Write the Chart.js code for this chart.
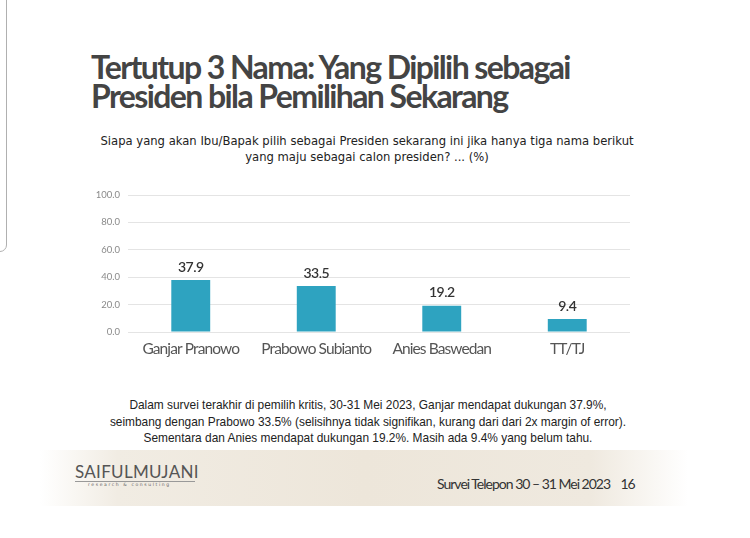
<!DOCTYPE html>
<html><head><meta charset="utf-8">
<script src="https://cdn.jsdelivr.net/npm/chart.js@4"></script>
<style>
html,body{margin:0;padding:0;background:#fff;width:750px;height:538px;overflow:hidden;position:relative;font-family:Lato,sans-serif;}
.edge{position:absolute;left:-11px;top:-10px;width:16px;height:260px;border:1.5px solid #b0b0b0;border-radius:7px;}
.title{position:absolute;left:91px;top:52px;font-family:Lato,sans-serif;font-weight:700;font-size:32px;line-height:29px;color:#444;letter-spacing:-1.6px;}
.sub{position:absolute;left:52px;width:630px;top:133px;text-align:center;font-family:"DejaVu Sans",sans-serif;font-size:11.6px;line-height:16px;color:#222;}
#wrap{position:absolute;left:78px;top:180px;width:552px;height:184px;}
.note{position:absolute;left:38px;width:660px;top:397px;text-align:center;font-family:"Liberation Sans",Arial,sans-serif;font-size:11.9px;line-height:16.5px;color:#222;}
.band{position:absolute;left:40px;top:450px;width:648px;height:56px;background:linear-gradient(90deg,rgba(255,255,255,1) 0%,#f1ece3 12%,#ede6da 50%,#efe9df 85%,rgba(255,255,255,1) 100%);}
.logo{position:absolute;left:75px;top:461px;font-family:Lato,sans-serif;font-size:17px;color:#555;letter-spacing:0.3px;}
.logoline{position:absolute;left:75px;top:481px;width:120px;border-top:1px solid #999;}
.logosub{position:absolute;left:88px;top:482px;font-family:"DejaVu Sans",sans-serif;font-size:4.5px;letter-spacing:1.6px;color:#666;}
.foot{position:absolute;left:437px;top:475px;font-family:Lato,sans-serif;font-size:14px;color:#333;letter-spacing:-1px;}
</style></head><body>
<div class="edge"></div>
<div class="title">Tertutup 3 Nama: Yang Dipilih sebagai<br>Presiden bila Pemilihan Sekarang</div>
<div class="sub">Siapa yang akan Ibu/Bapak pilih sebagai Presiden sekarang ini jika hanya tiga nama berikut<br>yang maju sebagai calon presiden? ... (%)</div>
<div id="wrap"><canvas id="c"></canvas></div>
<div class="note">Dalam survei terakhir di pemilih kritis, 30-31 Mei 2023, Ganjar mendapat dukungan 37.9%,<br>seimbang dengan Prabowo 33.5% (selisihnya tidak signifikan, kurang dari dari 2x margin of error).<br>Sementara dan Anies mendapat dukungan 19.2%. Masih ada 9.4% yang belum tahu.</div>
<div class="band"></div>
<div class="logo">SAIFULMUJANI</div>
<div class="logoline"></div>
<div class="logosub">research &amp; consulting</div>
<div class="foot">Survei Telepon 30 – 31 Mei 2023 &nbsp;&nbsp; 16</div>
<script>
const categories = ["Ganjar Pranowo", "Prabowo Subianto", "Anies Baswedan", "TT/TJ"];
const values = [37.9, 33.5, 19.2, 9.4];
const yTicks = [0, 20, 40, 60, 80, 100];

const valueLabels = {
  id: 'valueLabels',
  afterDatasetsDraw(chart) {
    const ctx = chart.ctx;
    const meta = chart.getDatasetMeta(0);
    ctx.save();
    ctx.font = '600 14px Lato, sans-serif';
    ctx.fillStyle = '#333';
    ctx.textAlign = 'center';
    ctx.textBaseline = 'bottom';
    ctx.letterSpacing = '-0.5px';
    meta.data.forEach((bar, i) => {
      ctx.fillText(values[i].toFixed(1), bar.x, bar.y - 6);
    });
    ctx.restore();
  }
};
const spacing = {
  id: 'spacing',
  beforeDraw(chart) { chart.ctx.letterSpacing = '-0.9px'; }
};

new Chart(document.getElementById('c'), {
  type: 'bar',
  data: {
    labels: categories,
    datasets: [{
      data: values,
      backgroundColor: '#2ea3c0',
      categoryPercentage: 1,
      barPercentage: 0.31
    }]
  },
  options: {
    responsive: true,
    maintainAspectRatio: false,
    animation: false,
    layout: { padding: { top: 15, right: 0, left: 0, bottom: 0 } },
    plugins: { legend: { display: false }, tooltip: { enabled: false } },
    scales: {
      y: {
        min: 0, max: 100,
        afterBuildTicks(axis) { axis.ticks = yTicks.map(v => ({ value: v })); },
        afterFit(axis) {
          axis.width = 50;
          if (!axis._lsWrapped) {
            const orig = axis.drawLabels;
            axis.drawLabels = function (ca) {
              const c = this.ctx;
              const prev = c.letterSpacing;
              c.letterSpacing = '0px';
              orig.call(this, ca);
              c.letterSpacing = prev;
            };
            axis._lsWrapped = true;
          }
        },
        ticks: {
          callback: v => v.toFixed(1),
          font: { family: 'Lato, sans-serif', size: 9.5 },
          color: '#8a8a8a',
          padding: 8
        },
        grid: { color: '#e4e4e4', drawTicks: false },
        border: { display: false }
      },
      x: {
        afterFit(axis) { axis.height = 32; },
        ticks: {
          font: { family: 'Lato, sans-serif', size: 15.5 },
          color: '#555',
          padding: 0,
          maxRotation: 0,
          minRotation: 0,
          autoSkip: false
        },
        grid: { display: false },
        border: { display: false }
      }
    }
  },
  plugins: [spacing, valueLabels]
});
</script>
</body></html>
